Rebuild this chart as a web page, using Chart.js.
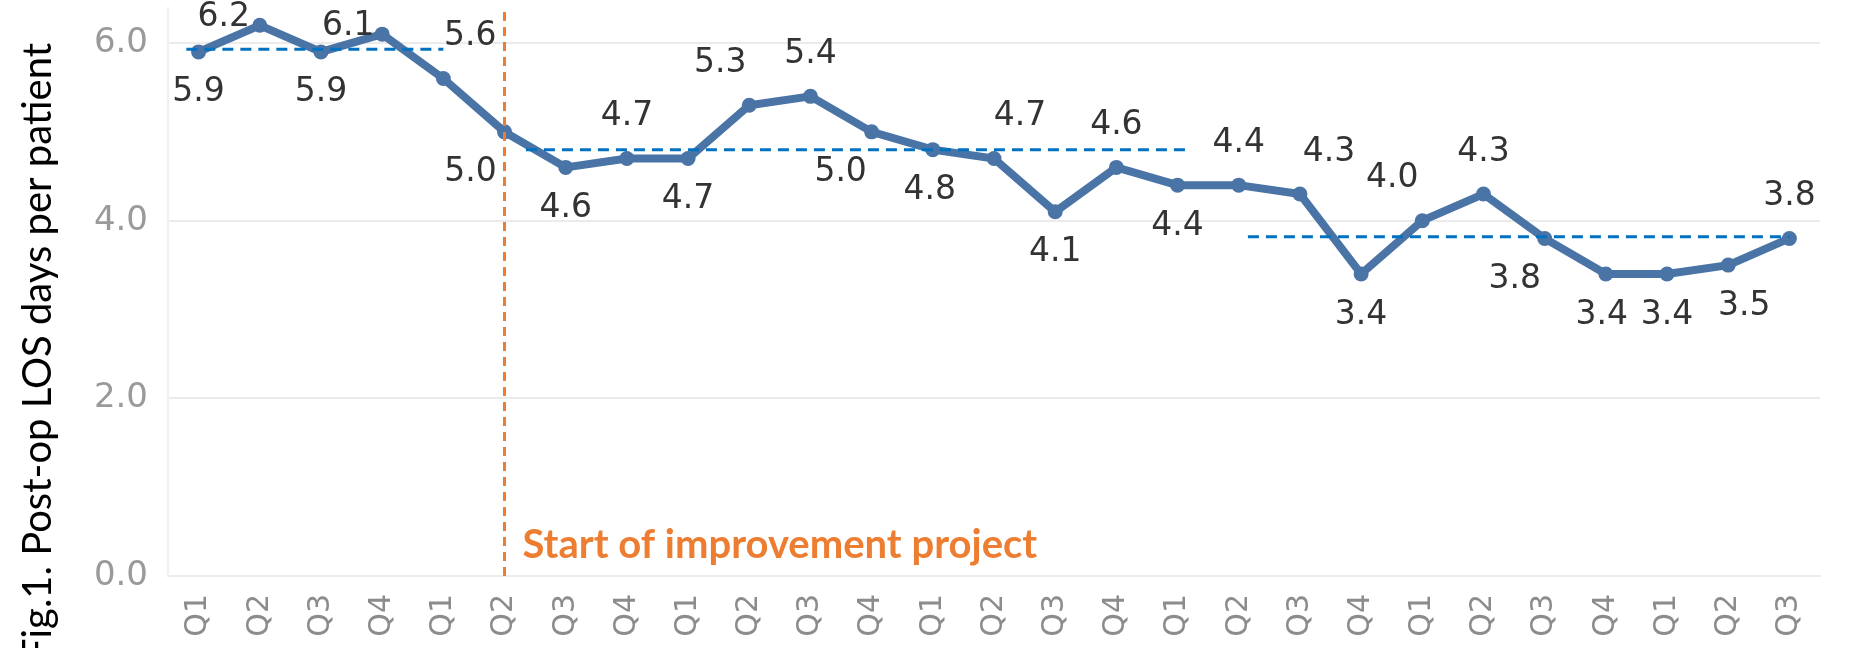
<!DOCTYPE html>
<html>
<head>
<meta charset="utf-8">
<script src="https://cdn.jsdelivr.net/npm/chart.js@4.4.1/dist/chart.umd.min.js"></script>
<style>
  html, body { margin: 0; padding: 0; background: #fff; overflow: hidden; }
  #wrap { width: 1855px; height: 730px; }
</style>
</head>
<body>
<div id="wrap"><canvas id="losChart" width="1855" height="730"></canvas></div>
<script>
// quarters shown on the x axis (year part is cut off at the bottom of the figure)
const quarters = [
  '2017 Q1', '2017 Q2', '2017 Q3', '2017 Q4',
  '2018 Q1', '2018 Q2', '2018 Q3', '2018 Q4',
  '2019 Q1', '2019 Q2', '2019 Q3', '2019 Q4',
  '2020 Q1', '2020 Q2', '2020 Q3', '2020 Q4',
  '2021 Q1', '2021 Q2', '2021 Q3', '2021 Q4',
  '2022 Q1', '2022 Q2', '2022 Q3', '2022 Q4',
  '2023 Q1', '2023 Q2', '2023 Q3'
];

// post-op length of stay, days per patient
const losDays = [5.9, 6.2, 5.9, 6.1, 5.6, 5.0, 4.6, 4.7, 4.7, 5.3, 5.4, 5.0, 4.8, 4.7,
                 4.1, 4.6, 4.4, 4.4, 4.3, 3.4, 4.0, 4.3, 3.8, 3.4, 3.4, 3.5, 3.8];

// dashed median lines: level and span (in quarter index units)
const medianLevels = [5.93, 4.8, 3.82];
const medianFrom = [-0.2, 5.35, 17.15];
const medianTo = [4, 16.15, 26];

const projectStart = 5;   // 2018 Q2
const yTicks = [0, 2, 4, 6];

const yTitle = 'Fig.1. Post-op LOS days per patient';
const startNote = 'Start of improvement project';

// where each value label sits relative to its point
const labelSide = ['b','l','b','l','a','b','b','a','b','a','a','b','b','a',
                   'b','a','b','a','a','b','a','a','b','b','b','b','a'];
const labelDx = [0,-36,0,-34,27,-34,0,0,0,-29,0,-31,-3,26,
                 0,0,0,0,29,0,-30,0,-30,-4,0,16,0];

const BLUE = '#4A74A6';
const ORANGE = '#ED7D31';

const extras = {
  id: 'extras',
  afterDatasetsDraw(chart) {
    const ctx = chart.ctx;
    const pts = chart.getDatasetMeta(0).data;
    ctx.save();
    ctx.font = '33px "DejaVu Sans"';
    ctx.fillStyle = '#333333';
    ctx.textAlign = 'center';
    ctx.textBaseline = 'middle';
    pts.forEach((p, i) => {
      let dy = 41;
      if (labelSide[i] === 'a') dy = -42;
      if (labelSide[i] === 'l') dy = -8;
      ctx.fillText(losDays[i].toFixed(1), p.x + labelDx[i], p.y + dy);
    });
    ctx.restore();
  },
  afterDraw(chart) {
    const ctx = chart.ctx;
    const { x, y } = chart.scales;
    ctx.save();
    ctx.font = 'bold 40px Lato';
    ctx.fillStyle = ORANGE;
    ctx.textAlign = 'left';
    ctx.textBaseline = 'middle';
    ctx.fillText(startNote, x.getPixelForValue(projectStart) + 18, y.getPixelForValue(0) - 31);

    ctx.translate(38, 352);
    ctx.rotate(-Math.PI / 2);
    ctx.font = '40px Lato';
    ctx.fillStyle = '#000000';
    ctx.textAlign = 'center';
    ctx.textBaseline = 'middle';
    ctx.fillText(yTitle, 0, 0);
    ctx.restore();
  }
};

const datasets = [{
  data: losDays.map((v, i) => ({ x: i, y: v })),
  borderColor: BLUE,
  backgroundColor: BLUE,
  borderWidth: 8,
  pointRadius: 7.5,
  pointBorderWidth: 0,
  tension: 0,
  clip: false,
  order: 3
}];

medianLevels.forEach((lvl, k) => {
  datasets.push({
    data: [{ x: medianFrom[k], y: lvl }, { x: medianTo[k], y: lvl }],
    borderColor: '#0070C0',
    borderWidth: 3,
    borderDash: [11, 7],
    pointRadius: 0,
    order: 1
  });
});

datasets.push({
  data: [{ x: projectStart, y: 0 }, { x: projectStart, y: 6.4 }],
  borderColor: ORANGE,
  borderWidth: 3,
  borderDash: [9, 6],
  pointRadius: 0,
  order: 1
});

new Chart(document.getElementById('losChart'), {
  type: 'line',
  data: { datasets: datasets },
  options: {
    responsive: false,
    animation: false,
    events: [],
    layout: { padding: { left: 0, right: 35, top: 0, bottom: 0 } },
    plugins: { legend: { display: false }, tooltip: { enabled: false } },
    scales: {
      x: {
        type: 'linear',
        min: -0.5,
        max: quarters.length - 0.5,
        afterBuildTicks: (s) => { s.ticks = quarters.map((q, i) => ({ value: i })); },
        afterFit: (s) => { s.height = 154; s.paddingLeft = 0; s.paddingRight = 0; },
        grid: { display: false },
        border: { display: true, color: '#ececec', width: 2 },
        ticks: {
          autoSkip: false,
          maxRotation: 90,
          minRotation: 90,
          padding: 10,
          color: '#8c8c8c',
          font: { family: 'DejaVu Sans', size: 30 },
          callback: (v) => quarters[v]
        }
      },
      y: {
        min: 0,
        max: 6.4,
        afterBuildTicks: (s) => { s.ticks = yTicks.map(v => ({ value: v })); },
        afterFit: (s) => { s.width = 168; s.paddingTop = 0; s.paddingBottom = 0; },
        grid: { color: '#ebebeb', lineWidth: 2, drawTicks: false },
        border: { display: true, color: '#f0f0f0', width: 2 },
        ticks: {
          padding: 20,
          color: '#9a9a9a',
          font: { family: 'DejaVu Sans', size: 34 },
          callback: (v) => v.toFixed(1)
        }
      }
    }
  },
  plugins: [extras]
});
</script>
</body>
</html>
